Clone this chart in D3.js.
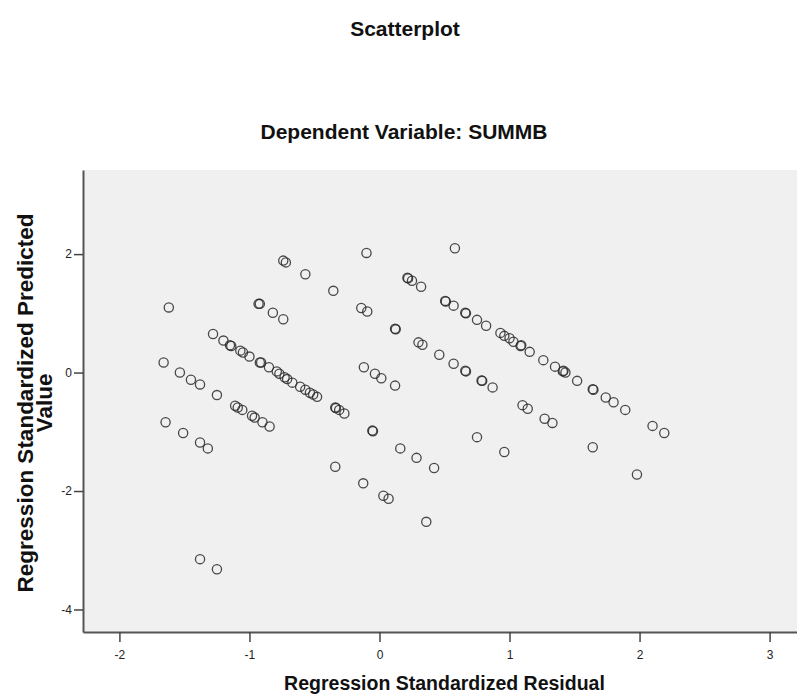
<!DOCTYPE html>
<html>
<head>
<meta charset="utf-8">
<script src="https://cdn.jsdelivr.net/npm/d3@7"></script>
<style>
  body { margin: 0; background: #fff; }
  svg { display: block; font-family: "Liberation Sans", Arial, sans-serif; }
  .tick text { font-size: 12px; fill: #222; }
</style>
</head>
<body>
<div id="scatter"></div>
<script>
var svgWidth = 797;
var svgHeight = 694;

// residuals (x) and predicted values (y)
var residual = [
  -1.62, -0.74, -0.72, -0.57, -0.355, -0.10, -0.14, -0.094, -0.93, -0.92,
  -0.82, -0.74, -1.28, -1.20, -1.15, -1.14, -1.07, -1.05, -1.00, -0.92,
  -0.91, -0.85, -0.79, -0.77, -0.73, -0.71, -0.67, -0.61, -0.57, -0.535,
  -0.51, -0.48, -0.34, -0.335, -0.31, -0.27, -0.12, -1.66, -1.535, -1.45,
  -1.38, -1.25, -1.11, -1.09, -1.055, -0.98, -0.96, -0.90, -0.845, -1.645,
  -1.51, -1.38, -1.32, -0.055, -0.05, 0.16, 0.285, 0.42, -0.34, -0.125,
  0.03, 0.07, 0.36, -1.38, -1.25, 0.58, 0.22, 0.215, 0.25, 0.32,
  0.51, 0.505, 0.57, 0.66, 0.665, 0.75, 0.82, 0.93, 0.96, 1.00,
  1.03, 1.085, 1.09, 1.155, 1.26, 1.35, 1.41, 1.415, 1.43, 1.52,
  1.64, 1.645, 1.74, 1.80, 1.89, 0.12, 0.125, 0.30, 0.33, 0.46,
  0.57, 0.66, 0.665, 0.785, 0.79, 0.87, -0.035, 0.014, 0.12, 1.10,
  1.14, 1.27, 1.33, 2.10, 2.19, 1.64, 1.98, 0.75, 0.96
];
var predicted = [
  1.10, 1.89, 1.86, 1.66, 1.38, 2.02, 1.09, 1.03, 1.16, 1.16,
  1.01, 0.90, 0.65, 0.54, 0.46, 0.45, 0.37, 0.34, 0.27, 0.17,
  0.17, 0.09, 0.02, -0.02, -0.08, -0.11, -0.17, -0.24, -0.29, -0.34,
  -0.37, -0.41, -0.59, -0.60, -0.63, -0.69, 0.09, 0.17, 0.00, -0.12,
  -0.20, -0.38, -0.56, -0.59, -0.63, -0.73, -0.76, -0.84, -0.91, -0.84,
  -1.02, -1.18, -1.28, -0.98, -0.99, -1.28, -1.44, -1.61, -1.59, -1.87,
  -2.08, -2.13, -2.52, -3.15, -3.32, 2.10, 1.59, 1.60, 1.55, 1.45,
  1.20, 1.21, 1.13, 1.01, 1.00, 0.89, 0.79, 0.67, 0.62, 0.58,
  0.52, 0.45, 0.46, 0.35, 0.21, 0.10, 0.02, 0.03, 0.00, -0.14,
  -0.28, -0.29, -0.42, -0.50, -0.63, 0.74, 0.73, 0.51, 0.47, 0.30,
  0.15, 0.03, 0.02, -0.135, -0.14, -0.25, -0.02, -0.095, -0.22, -0.55,
  -0.61, -0.78, -0.85, -0.90, -1.02, -1.26, -1.72, -1.09, -1.34
];

var xTicks = [-2, -1, 0, 1, 2, 3];
var yTicks = [-4, -2, 0, 2];

var plot = { left: 83, right: 806, top: 170, bottom: 632 };

var points = residual.map(function (r, i) {
  return { residual: r, predicted: predicted[i] };
});

var svg = d3.select("#scatter")
  .append("svg")
  .attr("width", svgWidth)
  .attr("height", svgHeight);

var xLinearScale = d3.scaleLinear()
  .domain([-2.28, 3.28])
  .range([plot.left, plot.right]);

var yLinearScale = d3.scaleLinear()
  .domain([-4.38, 3.42])
  .range([plot.bottom, plot.top]);

// titles
svg.append("text")
  .attr("x", 405)
  .attr("y", 36)
  .attr("text-anchor", "middle")
  .attr("font-size", "21px")
  .attr("font-weight", "bold")
  .attr("fill", "#111")
  .text("Scatterplot");

svg.append("text")
  .attr("x", 404)
  .attr("y", 139)
  .attr("text-anchor", "middle")
  .attr("font-size", "21px")
  .attr("font-weight", "bold")
  .attr("fill", "#111")
  .text("Dependent Variable: SUMMB");

// plot background
svg.append("rect")
  .attr("x", plot.left)
  .attr("y", plot.top)
  .attr("width", plot.right - plot.left)
  .attr("height", plot.bottom - plot.top)
  .attr("fill", "#f0f0f0");

// axes
var bottomAxis = d3.axisBottom(xLinearScale)
  .tickValues(xTicks)
  .tickFormat(d => String(d))
  .tickSize(10)
  .tickPadding(8)
  .tickSizeOuter(0);
var leftAxis = d3.axisLeft(yLinearScale)
  .tickValues(yTicks)
  .tickFormat(d => String(d))
  .tickSize(9)
  .tickPadding(2)
  .tickSizeOuter(0);

var xAxis = svg.append("g")
  .attr("transform", `translate(0, ${plot.bottom})`)
  .call(bottomAxis);
var yAxis = svg.append("g")
  .attr("transform", `translate(${plot.left}, 0)`)
  .call(leftAxis);

[xAxis, yAxis].forEach(function (ax) {
  ax.select(".domain").attr("stroke", "#555").attr("stroke-width", 2);
  ax.selectAll(".tick line").attr("stroke", "#444").attr("stroke-width", 1.5);
});

// axis labels
svg.append("text")
  .attr("x", (plot.left + plot.right) / 2)
  .attr("y", 690)
  .attr("text-anchor", "middle")
  .attr("font-size", "19.5px")
  .attr("font-weight", "bold")
  .attr("fill", "#111")
  .text("Regression Standardized Residual");

var ylabel = svg.append("text")
  .attr("transform", "rotate(-90)")
  .attr("text-anchor", "middle")
  .attr("font-size", "22.5px")
  .attr("font-weight", "bold")
  .attr("fill", "#111");
ylabel.append("tspan")
  .attr("x", -403)
  .attr("y", 33)
  .text("Regression Standardized Predicted");
ylabel.append("tspan")
  .attr("x", -403)
  .attr("y", 52)
  .text("Value");

// markers
svg.append("g").selectAll("circle")
  .data(points)
  .enter()
  .append("circle")
  .attr("cx", d => xLinearScale(d.residual))
  .attr("cy", d => yLinearScale(d.predicted))
  .attr("r", 4.6)
  .attr("fill", "none")
  .attr("stroke", "#2a2a2a")
  .attr("stroke-width", 1.3)
  .attr("opacity", 0.85);
</script>
</body>
</html>
